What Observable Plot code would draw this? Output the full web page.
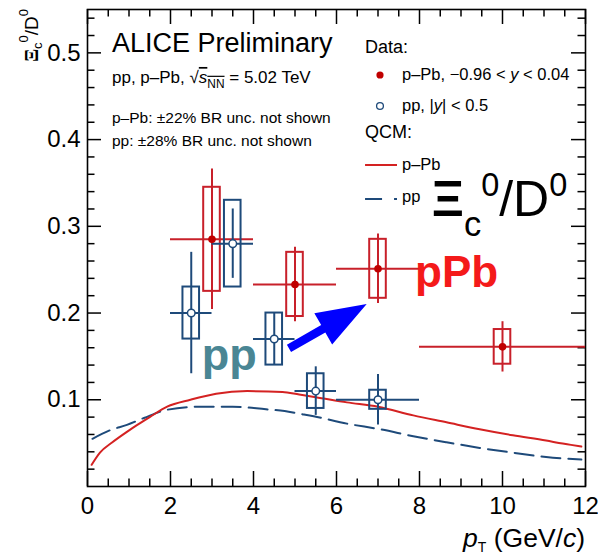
<!DOCTYPE html>
<html><head><meta charset="utf-8">
<script src="https://cdn.jsdelivr.net/npm/d3@7"></script>
<script src="https://cdn.jsdelivr.net/npm/@observablehq/plot@0.6"></script>
<style>body{margin:0;background:#fff}</style>
</head><body><div id="chart"></div>
<script>
// ---- tick labels ----
const xTicks = [0, 2, 4, 6, 8, 10, 12];
const yTicks = [0.1, 0.2, 0.3, 0.4, 0.5];

// ---- p-Pb data ----
const ppbPt   = [3, 5, 7, 10];
const ppbVal  = [0.285, 0.233, 0.251, 0.161];
const ppbPtLo = [2, 4, 6, 8];
const ppbPtHi = [4, 6, 8, 12];
const ppbStat = [0.081, 0.043, 0.040, 0.029];
const ppbSyst = [0.060, 0.037, 0.034, 0.020];

// ---- pp data ----
const ppPt   = [2.5, 3.5, 4.5, 5.5, 7];
const ppVal  = [0.200, 0.280, 0.170, 0.110, 0.100];
const ppPtLo = [2, 3, 4, 5, 6];
const ppPtHi = [3, 4, 5, 6, 8];
const ppStat = [0.070, 0.040, 0.030, 0.028, 0.029];
const ppSyst = [0.030, 0.050, 0.030, 0.020, 0.011];

// ---- QCM model curves ----
const qcmPPbX = [0.1, 0.3, 0.6, 0.95, 1.2, 1.5, 1.92, 2.48, 3.1, 3.85, 4.7, 5.1, 5.5, 6.25, 7.0, 7.85, 8.65, 9.45, 10.25, 11.05, 11.45, 11.65, 11.9];
const qcmPPbY = [0.025, 0.039, 0.051, 0.063, 0.071, 0.080, 0.092, 0.100, 0.107, 0.110, 0.109, 0.106, 0.103, 0.097, 0.092, 0.082, 0.074, 0.066, 0.059, 0.053, 0.0495, 0.048, 0.046];
const qcmPPX = [0.12, 0.55, 0.95, 1.36, 1.92, 2.7, 3.5, 4.3, 4.75, 5.1, 5.45, 6.25, 7.05, 7.85, 8.65, 9.45, 10.25, 11.05, 11.9];
const qcmPPY = [0.055, 0.065, 0.071, 0.079, 0.0885, 0.092, 0.092, 0.089, 0.087, 0.084, 0.081, 0.0725, 0.066, 0.058, 0.051, 0.0445, 0.039, 0.034, 0.031];

// ---- build tables ----
const ppbRows = ppbPt.map((x, i) => ({x, y: ppbVal[i], lo: ppbPtLo[i], hi: ppbPtHi[i], stat: ppbStat[i], syst: ppbSyst[i]}));
const ppRows = ppPt.map((x, i) => ({x, y: ppVal[i], lo: ppPtLo[i], hi: ppPtHi[i], stat: ppStat[i], syst: ppSyst[i]}));
const qcmPPb = qcmPPbX.map((x, i) => ({x, y: qcmPPbY[i]}));
const qcmPP = qcmPPX.map((x, i) => ({x, y: qcmPPY[i]}));

// ---- style ----
const FONT = "'Liberation Sans', Arial, Helvetica, sans-serif";
const RED = "#c8202a", LRED = "#d42222", BLUE = "#1e4a7a";
const W = 598, H = 557, mL = 87, mR = 13, mT = 9, mB = 71;
const iW = W - mL - mR, iH = H - mT - mB;
const BOXW = 0.2;

const xMinor = d3.range(0.5, 12, 0.5).filter(v => v % 2 !== 0);
const yMinor = d3.range(0.02, 0.55, 0.02).filter(v => Math.abs(v * 10 - Math.round(v * 10)) > 1e-6);

function richText(xv, yv, segs, o = {}) {
  const fs = o.fontSize || 16;
  return (index, {x, y}) => {
    const t = d3.create("svg:text")
      .attr("x", x(xv)).attr("y", y(yv))
      .attr("font-size", fs).attr("fill", o.fill || "black")
      .attr("text-anchor", o.anchor || "start")
      .attr("font-weight", o.fontWeight || "normal")
      .attr("font-family", FONT);
    let cur = 0;
    for (const s of segs) {
      const shift = s.shift || 0;
      const ts = t.append("tspan").text(s.t);
      if (shift !== cur) ts.attr("dy", (shift - cur) * fs);
      cur = shift;
      if (s.size) ts.attr("font-size", s.size * fs);
      if (s.italic) ts.attr("font-style", "italic");
      if (s.bold) ts.attr("font-weight", "bold");
      if (s.family) ts.attr("font-family", s.family);
      if (s.deco) ts.style("text-decoration", s.deco);
    }
    return t.node();
  };
}

function arrowMark(x0, y0, x1, y1) {
  return (index, {x, y}) => {
    const ax = x(x0), ay = y(y0), bx = x(x1), by = y(y1);
    const L = Math.hypot(bx - ax, by - ay);
    const ux = (bx - ax) / L, uy = (by - ay) / L, nx = -uy, ny = ux;
    const hl = 50, hw = 18, sw = 4.2;
    const cx = bx - ux * hl, cy = by - uy * hl;
    const pts = [
      [ax + nx * sw, ay + ny * sw], [cx + nx * sw, cy + ny * sw], [cx + nx * hw, cy + ny * hw],
      [bx, by],
      [cx - nx * hw, cy - ny * hw], [cx - nx * sw, cy - ny * sw], [ax - nx * sw, ay - ny * sw]
    ];
    return d3.create("svg:polygon").attr("points", pts.map(p => p.join(",")).join(" "))
      .attr("fill", "#0000ff").node();
  };
}

function legendMark() {
  return (index, {x, y}) => {
    const g = d3.create("svg:g");
    g.append("circle").attr("cx", x(7.06)).attr("cy", y(0.4739)).attr("r", 3.6).attr("fill", "#c00000");
    g.append("circle").attr("cx", x(7.06)).attr("cy", y(0.4381)).attr("r", 3.4).attr("fill", "white").attr("stroke", BLUE).attr("stroke-width", 1.3);
    g.append("line").attr("x1", x(6.70)).attr("x2", x(7.47)).attr("y1", y(0.3701)).attr("y2", y(0.3701)).attr("stroke", LRED).attr("stroke-width", 2);
    g.append("line").attr("x1", x(6.70)).attr("x2", x(7.47)).attr("y1", y(0.3309)).attr("y2", y(0.3309)).attr("stroke", BLUE).attr("stroke-width", 2).attr("stroke-dasharray", "17,12");
    return g.node();
  };
}

function axisLabels() {
  return (index, scales, values, dims) => {
    const g = d3.create("svg:g").attr("font-family", FONT);
    // y label (rotated)
    const ty = g.append("text").attr("transform", `translate(${dims.marginLeft - 49},${dims.marginTop}) rotate(-90)`)
      .attr("text-anchor", "end").attr("font-size", 19);
    ty.append("tspan").text("Ξ").attr("font-family", "'Liberation Serif', 'DejaVu Serif', serif").attr("font-weight", "bold");
    ty.append("tspan").text("c").attr("font-size", 13).attr("dy", 4);
    ty.append("tspan").text("0").attr("font-size", 13).attr("dy", -14);
    ty.append("tspan").text("/D").attr("dy", 10);
    ty.append("tspan").text("0").attr("font-size", 13).attr("dy", -10);
    // x label
    const tx = g.append("text").attr("x", dims.width - dims.marginRight).attr("y", dims.height - dims.marginBottom + 61)
      .attr("text-anchor", "end").attr("font-size", 26.5);
    tx.append("tspan").text("p").attr("font-style", "italic");
    tx.append("tspan").text("T").attr("font-size", 14).attr("dy", 5);
    tx.append("tspan").text(" (GeV/").attr("dy", -5);
    tx.append("tspan").text("c").attr("font-style", "italic");
    tx.append("tspan").text(")");
    return g.node();
  };
}

const chart = Plot.plot({
  width: W, height: H,
  marginLeft: mL, marginRight: mR, marginTop: mT, marginBottom: mB,
  style: {fontFamily: FONT, fontSize: "24px", background: "white", color: "black"},
  x: {domain: [0, 12], ticks: xTicks, tickSize: 0, tickPadding: 10, label: null, tickFormat: d => String(d)},
  y: {domain: [0, 0.55], ticks: yTicks, tickSize: 0, tickPadding: 7, label: null, tickFormat: d => d.toFixed(1)},
  marks: [
    // ticks on all four sides (inward)
    Plot.tickX(xTicks, {x: d => d, insetTop: iH - 15, stroke: "black", strokeWidth: 1.5}),
    Plot.tickX(xMinor, {x: d => d, insetTop: iH - 7.5, stroke: "black", strokeWidth: 1.5}),
    Plot.tickX(xTicks, {x: d => d, insetBottom: iH - 15, stroke: "black", strokeWidth: 1.5}),
    Plot.tickX(xMinor, {x: d => d, insetBottom: iH - 7.5, stroke: "black", strokeWidth: 1.5}),
    Plot.tickY(yTicks, {y: d => d, insetRight: iW - 14, stroke: "black", strokeWidth: 1.5}),
    Plot.tickY(yMinor, {y: d => d, insetRight: iW - 7.5, stroke: "black", strokeWidth: 1.5}),
    Plot.tickY(yTicks, {y: d => d, insetLeft: iW - 14, stroke: "black", strokeWidth: 1.5}),
    Plot.tickY(yMinor, {y: d => d, insetLeft: iW - 7.5, stroke: "black", strokeWidth: 1.5}),
    Plot.frame({stroke: "black", strokeWidth: 1.6}),

    // QCM curves
    Plot.line(qcmPP, {x: "x", y: "y", stroke: BLUE, strokeWidth: 2, strokeDasharray: "19,8", curve: "monotone-x"}),
    Plot.line(qcmPPb, {x: "x", y: "y", stroke: LRED, strokeWidth: 2, curve: "monotone-x"}),

    // p-Pb data
    Plot.rect(ppbRows, {x1: d => d.x - BOXW, x2: d => d.x + BOXW, y1: d => d.y - d.syst, y2: d => d.y + d.syst, fill: "none", stroke: RED, strokeWidth: 2}),
    Plot.ruleY(ppbRows, {y: "y", x1: "lo", x2: "hi", stroke: RED, strokeWidth: 2}),
    Plot.ruleX(ppbRows, {x: "x", y1: d => d.y - d.stat, y2: d => d.y + d.stat, stroke: RED, strokeWidth: 2}),

    // pp data
    Plot.rect(ppRows, {x1: d => d.x - BOXW, x2: d => d.x + BOXW, y1: d => d.y - d.syst, y2: d => d.y + d.syst, fill: "none", stroke: BLUE, strokeWidth: 2}),
    Plot.ruleY(ppRows, {y: "y", x1: "lo", x2: "hi", stroke: BLUE, strokeWidth: 2}),
    Plot.ruleX(ppRows, {x: "x", y1: d => d.y - d.stat, y2: d => d.y + d.stat, stroke: BLUE, strokeWidth: 2}),

    Plot.dot(ppbRows, {x: "x", y: "y", r: 3.8, fill: "#c00000", stroke: "none"}),
    Plot.dot(ppRows, {x: "x", y: "y", r: 3.8, fill: "white", stroke: BLUE, strokeWidth: 1.5}),

    // annotations
    arrowMark(4.867, 0.1588, 6.74, 0.2098),
    richText(0.602, 0.5008, [{t: "ALICE Preliminary"}], {fontSize: 27}),
    richText(0.602, 0.4647, [{t: "pp, p\u2013Pb, "}, {t: "\u221A"}, {t: "s", italic: true, deco: "overline"}, {t: "NN", size: 0.7, shift: 0.28, deco: "overline"}, {t: " = 5.02 TeV", shift: 0}], {fontSize: 17}),
    richText(0.602, 0.4185, [{t: "p\u2013Pb: \u00B122% BR unc. not shown"}], {fontSize: 15.5}),
    richText(0.602, 0.3924, [{t: "pp: \u00B128% BR unc. not shown"}], {fontSize: 15.5}),
    richText(6.699, 0.4993, [{t: "Data:"}], {fontSize: 18}),
    richText(7.59, 0.4681, [{t: "p\u2013Pb, \u22120.96 < "}, {t: "y", italic: true}, {t: " < 0.04"}], {fontSize: 16.5}),
    richText(7.59, 0.4324, [{t: "pp, |"}, {t: "y", italic: true}, {t: "| < 0.5"}], {fontSize: 16.5}),
    richText(6.699, 0.4012, [{t: "QCM:"}], {fontSize: 18}),
    richText(7.59, 0.3643, [{t: "p\u2013Pb"}], {fontSize: 16.5}),
    richText(7.59, 0.3275, [{t: "pp"}], {fontSize: 16.5}),
    legendMark(),
    richText(8.306, 0.3113, [{t: "\u039E", bold: true}, {t: "c", size: 0.69, shift: 0.4}, {t: "0", size: 0.65, shift: -0.4}, {t: "/D", shift: 0}, {t: "0", size: 0.65, shift: -0.4}], {fontSize: 50}),
    richText(7.904, 0.2298, [{t: "pPb"}], {fontSize: 44, fontWeight: "bold", fill: "#f41a1a"}),
    richText(2.764, 0.1337, [{t: "pp"}], {fontSize: 45, fontWeight: "bold", fill: "#4a8694"}),
    axisLabels()
  ]
});
document.getElementById("chart").append(chart);
</script>
</body></html>
